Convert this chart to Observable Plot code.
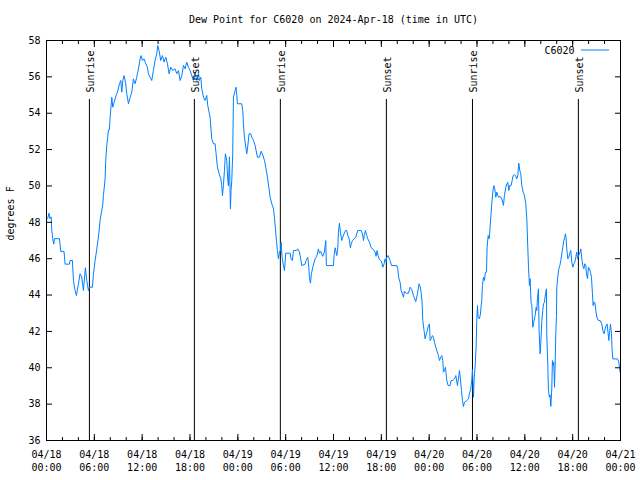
<!DOCTYPE html>
<html><head><meta charset="utf-8">
<script src="https://cdn.jsdelivr.net/npm/d3@7"></script>
<script src="https://cdn.jsdelivr.net/npm/@observablehq/plot@0.6"></script>
<style>body{margin:0;background:#fff}</style>
</head><body><div id="chart"></div>
<script>
const title = "Dew Point for C6020 on 2024-Apr-18 (time in UTC)";
const yLabel = "degrees F";
const seriesName = "C6020";
const startTime = "2024-04-18T00:00:00Z";
const endTime = "2024-04-21T00:00:00Z";
const yTicks = [36, 38, 40, 42, 44, 46, 48, 50, 52, 54, 56, 58];
const sunLabels = ["Sunrise", "Sunset", "Sunrise", "Sunset", "Sunrise", "Sunset"];
const sunTimes = ["2024-04-18T05:23Z", "2024-04-18T18:33Z", "2024-04-19T05:20Z", "2024-04-19T18:38Z", "2024-04-20T05:26Z", "2024-04-20T18:43Z"];
// hours since 2024-04-18 00:00 UTC
const hours = [0.15,0.30,0.45,0.58,0.66,0.78,0.91,1.00,1.62,1.79,2.20,2.33,2.88,2.95,3.25,3.38,3.59,3.75,4.00,4.21,4.42,4.63,4.88,5.05,5.26,5.38,5.76,5.89,6.10,6.31,6.51,6.72,6.93,7.06,7.14,7.35,7.43,7.56,7.68,7.77,7.89,7.98,8.19,8.31,8.48,8.73,8.90,9.15,9.32,9.44,9.57,9.73,9.94,10.07,10.28,10.49,10.70,10.90,11.11,11.32,11.53,11.74,11.87,12.03,12.24,12.45,12.66,12.79,12.99,13.20,13.41,13.62,13.83,13.96,14.12,14.33,14.54,14.75,14.96,15.17,15.38,15.59,15.84,16.13,16.34,16.55,16.76,16.97,17.18,17.39,17.59,17.80,18.01,18.22,18.43,18.64,18.85,19.06,19.18,19.35,19.48,19.69,19.89,20.10,20.23,20.52,20.73,20.94,21.15,21.27,21.44,21.65,21.86,21.98,22.07,22.19,22.32,22.44,22.61,22.74,22.82,22.95,23.02,23.07,23.15,23.24,23.36,23.45,23.66,23.78,23.87,23.95,24.49,24.62,24.70,24.83,25.00,25.12,25.25,25.41,25.62,25.75,25.96,26.17,26.46,26.71,26.92,27.13,27.34,27.50,27.71,27.92,28.05,28.26,28.47,28.59,28.72,28.84,28.97,29.09,29.22,29.34,29.43,29.55,29.72,29.85,30.01,30.56,30.68,30.85,30.97,31.39,31.52,31.73,31.89,32.02,32.44,32.56,32.77,32.90,32.98,33.11,33.23,33.40,33.57,33.69,33.90,34.11,34.24,34.40,34.65,34.86,35.03,35.11,35.99,36.08,36.20,36.33,36.41,36.54,36.62,36.74,36.87,37.04,37.16,37.33,37.50,37.66,37.79,37.96,38.12,38.21,38.38,38.58,38.79,39.04,39.46,39.63,39.76,39.88,40.01,40.17,40.30,40.51,40.72,40.93,41.09,41.22,41.34,41.47,41.59,41.72,41.93,42.05,42.18,42.35,42.47,42.60,42.68,42.85,42.97,43.10,43.27,43.94,44.06,44.19,44.35,44.48,44.65,44.77,44.90,45.11,45.40,45.61,45.82,46.03,46.32,46.53,46.74,46.86,46.99,47.11,47.20,47.36,47.49,47.70,47.91,48.04,48.12,48.25,48.41,48.54,48.66,48.83,48.96,49.16,49.29,49.46,49.58,49.71,49.79,49.92,50.04,50.13,50.21,50.38,50.63,50.75,50.96,51.17,51.34,51.55,51.72,51.80,51.92,52.05,52.18,52.30,52.43,52.72,52.93,53.05,53.22,53.35,53.43,53.56,53.64,53.76,53.89,53.97,54.06,54.14,54.31,54.43,54.52,54.60,54.68,54.81,54.93,55.06,55.19,55.27,55.40,55.52,55.60,55.73,55.85,55.98,56.11,56.23,56.36,56.48,56.61,56.73,56.90,57.11,57.32,57.44,57.61,57.74,57.86,57.99,58.11,58.28,58.41,58.53,58.70,58.82,58.99,59.12,59.24,59.37,59.49,59.62,59.79,59.95,60.12,60.25,60.37,60.46,60.58,60.66,60.79,60.87,61.00,61.16,61.29,61.42,61.50,61.58,61.71,61.79,61.92,62.00,62.13,62.25,62.34,62.46,62.59,62.71,62.75,62.88,62.96,63.09,63.17,63.26,63.38,63.46,63.55,63.63,63.72,63.80,63.88,63.97,64.01,64.13,64.26,64.39,64.51,64.64,64.76,64.89,65.01,65.10,65.18,65.26,65.39,65.51,65.64,65.76,65.89,66.02,66.14,66.27,66.39,66.52,66.60,66.77,66.94,67.02,67.15,67.27,67.40,67.52,67.65,67.73,67.86,67.98,68.11,68.23,68.36,68.48,68.57,68.65,68.78,68.90,69.03,69.24,69.44,69.65,69.78,69.95,70.07,70.20,70.32,70.45,70.53,70.66,70.74,70.87,70.95,71.03,71.62,71.79,71.87,71.95];
const dewF = [48.2,48.5,48.2,48.3,47.6,47.1,46.8,47.1,47.1,46.4,46.4,45.7,45.7,45.9,45.9,44.8,44.25,43.97,44.6,45.17,45.0,44.25,45.5,44.8,44.25,44.43,44.43,45.17,45.9,46.54,47.18,48.1,48.65,49.0,49.47,50.39,51.4,52.22,52.68,53.09,53.09,53.78,54.88,54.33,54.6,54.98,55.16,55.62,55.8,55.16,55.8,56.07,55.62,55.07,54.52,54.88,55.16,55.89,55.62,55.98,56.44,56.99,57.17,56.9,56.99,56.72,56.53,56.17,55.98,55.8,56.35,56.9,57.27,57.72,57.45,56.9,57.17,56.81,57.08,56.72,56.17,56.53,56.35,56.44,56.17,56.35,55.8,56.07,56.63,56.44,56.81,56.53,56.35,56.07,55.8,56.26,55.8,56.17,55.8,55.98,55.34,54.88,54.7,54.98,54.42,53.78,52.59,52.32,52.32,51.77,51.03,50.67,50.4,50.02,49.47,50.02,50.85,51.77,51.4,50.3,50.0,51.6,49.8,48.74,49.75,50.3,51.77,54.88,55.25,55.43,54.98,54.52,54.52,54.15,53.42,52.68,52.13,51.77,52.2,52.87,52.87,52.68,52.5,52.22,51.58,51.58,51.91,51.7,51.4,51.03,50.48,49.84,49.38,49.02,48.74,48.28,47.64,47.0,46.45,45.99,46.36,46.45,46.91,46.08,45.62,45.35,46.3,46.3,45.99,45.9,46.45,46.45,46.54,46.36,45.99,45.62,45.7,45.9,46.08,45.53,44.98,44.65,45.17,45.53,45.81,45.99,46.13,46.54,46.3,46.4,46.13,46.36,47.0,45.62,45.62,46.17,46.6,46.36,46.17,46.6,47.46,47.95,47.46,47.0,47.18,47.37,47.55,47.55,47.27,47.09,46.6,46.8,47.0,47.09,47.18,47.55,47.55,47.37,47.0,47.33,47.55,47.27,47.09,46.91,46.6,46.54,46.45,46.36,46.13,46.45,46.17,45.99,45.9,45.81,45.53,45.72,45.99,45.81,46.08,46.17,46.04,45.9,45.62,45.62,45.44,44.93,44.71,44.25,44.07,43.88,44.21,44.1,44.1,44.43,44.3,43.97,43.64,44.07,44.62,44.48,44.16,43.6,42.6,42.05,41.59,41.96,42.32,42.41,41.5,41.6,41.77,41.68,41.4,41.13,40.95,40.67,40.4,40.58,40.67,40.4,39.76,39.85,40.03,39.67,39.3,39.02,39.02,39.3,39.3,39.39,39.57,39.02,39.57,39.85,39.39,38.75,38.2,37.87,38.1,38.2,38.29,38.57,38.84,39.39,39.9,38.38,39.39,40.03,41.13,42.6,43.42,42.8,42.69,42.96,43.42,43.7,44.52,44.98,44.8,45.26,45.26,46.63,47.27,47.09,47.46,48.28,49.02,49.66,50.02,49.84,49.38,49.66,49.47,49.38,49.42,49.29,48.93,49.47,49.93,50.11,50.2,49.75,50.02,50.02,50.3,50.57,50.63,50.57,50.39,50.57,51.25,50.85,50.67,50.02,49.66,49.47,49.02,48.19,46.63,45.53,44.52,44.9,43.52,43.5,42.23,42.6,42.87,43.33,43.15,43.79,44.34,42.0,40.77,41.32,42.6,43.15,43.52,43.6,44.07,44.34,41.87,40.22,38.75,38.38,38.5,37.87,38.84,40.4,40.12,40.3,38.93,40.12,41.87,42.87,44.43,44.98,45.44,45.62,45.9,46.27,46.63,47.0,47.18,47.37,47.09,46.54,45.99,46.08,46.3,46.45,45.81,45.53,45.72,45.81,46.08,46.36,45.99,46.2,46.36,46.54,45.99,45.62,45.44,45.72,45.62,45.17,44.9,45.53,45.44,45.26,44.98,44.07,43.42,43.6,43.6,43.15,42.78,42.6,42.6,42.41,42.05,41.87,42.14,42.32,42.41,41.87,41.5,42.05,42.41,41.87,40.95,40.49,40.49,40.31,40.03,39.76];

const t0 = new Date(startTime);
const t1 = new Date(endTime);
const data = hours.map((h, i) => ({time: new Date(+t0 + h * 3600e3), value: dewF[i]}));
const events = sunTimes.map((s, i) => ({time: new Date(s), label: sunLabels[i]}));
const majorTicks = d3.utcHour.every(6).range(t0, new Date(+t1 + 1));
const minorTicks = d3.utcHour.every(2).range(t0, new Date(+t1 + 1));
const blank = () => "";
const lineColor = "#0080ff";
const yTop = yTicks[yTicks.length - 1];

const plot = Plot.plot({
  width: 640, height: 480,
  marginTop: 40, marginRight: 20, marginBottom: 40, marginLeft: 46,
  style: {fontFamily: "'DejaVu Sans Mono', monospace", fontSize: "10px", background: "white", color: "black"},
  x: {type: "utc", domain: [t0, t1]},
  y: {domain: [36, 58]},
  marks: [
    Plot.ruleX(events, {x: "time", insetTop: 59, stroke: "black", strokeWidth: 1}),
    Plot.line(data, {x: "time", y: "value", stroke: lineColor, strokeWidth: 1}),
    Plot.text(events, {x: "time", text: "label", frameAnchor: "top", dy: 52, dx: 1.5, rotate: -90, textAnchor: "start", lineAnchor: "middle", fill: "black"}),
    Plot.frame({stroke: "black"}),
    Plot.axisY(yTicks, {anchor: "left", tickSize: -6, tickPadding: 12, label: null}),
    Plot.axisY(yTicks, {anchor: "right", tickSize: -6, tickFormat: blank, label: null}),
    Plot.axisX(majorTicks, {anchor: "bottom", tickSize: -6, tickPadding: 14, tickFormat: d3.utcFormat("%m/%d\n%H:%M"), lineHeight: 1.3, label: null}),
    Plot.axisX(minorTicks, {anchor: "bottom", tickSize: -3, tickFormat: blank, label: null}),
    Plot.axisX(majorTicks, {anchor: "top", tickSize: -6, tickFormat: blank, label: null}),
    Plot.axisX(minorTicks, {anchor: "top", tickSize: -3, tickFormat: blank, label: null}),
    Plot.text([title], {frameAnchor: "top", dy: -21, lineAnchor: "middle"}),
    Plot.text([yLabel], {frameAnchor: "left", dx: -36, rotate: -90, lineAnchor: "middle"}),
    Plot.text([seriesName], {frameAnchor: "top-right", dx: -46, dy: 10, textAnchor: "end", lineAnchor: "middle"}),
    Plot.ruleY([yTop], {insetLeft: 535, insetRight: 11, dy: 9.5, stroke: lineColor, strokeWidth: 1})
  ]
});
document.getElementById("chart").append(plot);
</script>
</body></html>
